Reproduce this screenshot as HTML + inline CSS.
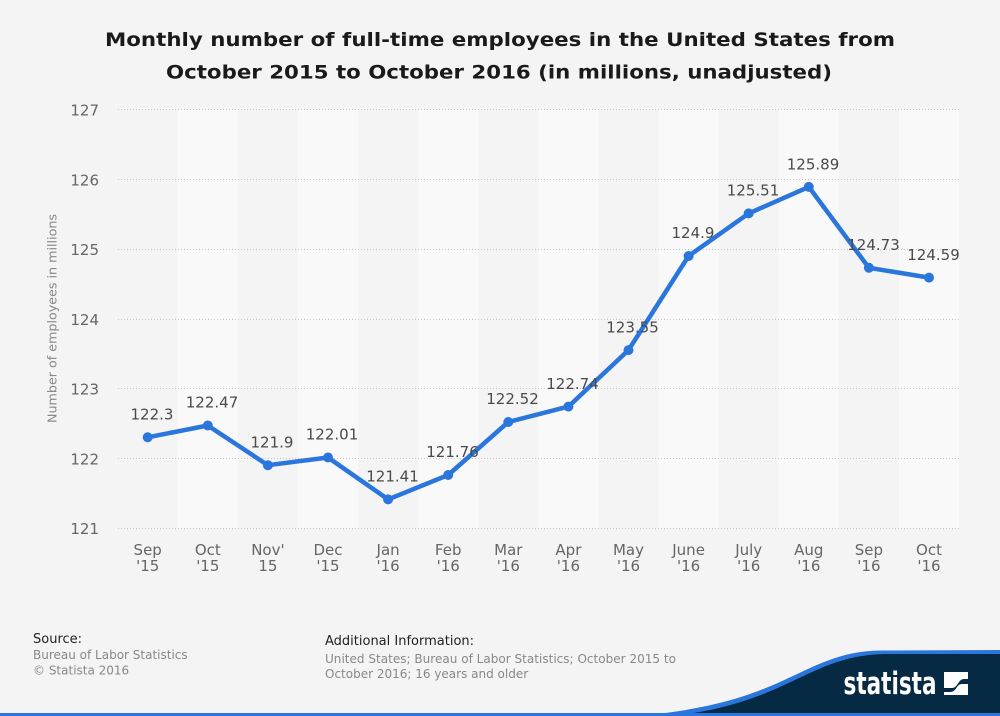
<!DOCTYPE html>
<html>
<head>
<meta charset="utf-8">
<style>
html,body{margin:0;padding:0;background:#f4f4f4;}
svg{display:block;}
text{font-family:"DejaVu Sans","Liberation Sans",sans-serif;}
</style>
</head>
<body>
<svg width="1000" height="716" viewBox="0 0 1000 716" xmlns="http://www.w3.org/2000/svg">
<rect x="0" y="0" width="1000" height="716" fill="#f4f4f4"/>

<!-- Title -->
<text x="500" y="46" text-anchor="middle" font-size="19" font-weight="bold" fill="#1a1a1a" textLength="790" lengthAdjust="spacingAndGlyphs">Monthly number of full-time employees in the United States from</text>
<text x="499" y="78.5" text-anchor="middle" font-size="19" font-weight="bold" fill="#1a1a1a" textLength="666" lengthAdjust="spacingAndGlyphs">October 2015 to October 2016 (in millions, unadjusted)</text>

<!-- Bands -->
<g fill="#f9f9f9">
<rect x="177.7" y="109" width="60.1" height="419"/>
<rect x="297.9" y="109" width="60.1" height="419"/>
<rect x="418.1" y="109" width="60.1" height="419"/>
<rect x="538.3" y="109" width="60.1" height="419"/>
<rect x="658.5" y="109" width="60.1" height="419"/>
<rect x="778.7" y="109" width="60.1" height="419"/>
<rect x="898.9" y="109" width="60.1" height="419"/>
</g>

<!-- Grid -->
<g stroke="#c8c8c8" stroke-width="1" stroke-dasharray="1,2">
<line x1="118" y1="109.5" x2="960" y2="109.5"/>
<line x1="118" y1="179.5" x2="960" y2="179.5"/>
<line x1="118" y1="249.5" x2="960" y2="249.5"/>
<line x1="118" y1="319.5" x2="960" y2="319.5"/>
<line x1="118" y1="388.5" x2="960" y2="388.5"/>
<line x1="118" y1="458.5" x2="960" y2="458.5"/>
<line x1="118" y1="528.5" x2="960" y2="528.5"/>
</g>

<!-- Y tick labels -->
<g font-size="15" fill="#666" text-anchor="end">
<text x="99" y="115.5">127</text>
<text x="99" y="185.5">126</text>
<text x="99" y="255">125</text>
<text x="99" y="325">124</text>
<text x="99" y="394.5">123</text>
<text x="99" y="464.5">122</text>
<text x="99" y="534">121</text>
</g>

<!-- Y axis title -->
<text transform="translate(56.5,318.5) rotate(-90)" text-anchor="middle" font-size="12" fill="#888" textLength="209" lengthAdjust="spacingAndGlyphs">Number of employees in millions</text>

<!-- X labels -->
<g font-size="15" fill="#666" text-anchor="middle">
<text x="147.7" y="555">Sep</text><text x="147.7" y="571">'15</text>
<text x="207.8" y="555">Oct</text><text x="207.8" y="571">'15</text>
<text x="267.9" y="555">Nov'</text><text x="267.9" y="571">15</text>
<text x="328.0" y="555">Dec</text><text x="328.0" y="571">'15</text>
<text x="388.1" y="555">Jan</text><text x="388.1" y="571">'16</text>
<text x="448.2" y="555">Feb</text><text x="448.2" y="571">'16</text>
<text x="508.3" y="555">Mar</text><text x="508.3" y="571">'16</text>
<text x="568.4" y="555">Apr</text><text x="568.4" y="571">'16</text>
<text x="628.5" y="555">May</text><text x="628.5" y="571">'16</text>
<text x="688.6" y="555">June</text><text x="688.6" y="571">'16</text>
<text x="748.7" y="555">July</text><text x="748.7" y="571">'16</text>
<text x="808.8" y="555">Aug</text><text x="808.8" y="571">'16</text>
<text x="868.9" y="555">Sep</text><text x="868.9" y="571">'16</text>
<text x="929.0" y="555">Oct</text><text x="929.0" y="571">'16</text>
</g>

<!-- Series line -->
<polyline fill="none" stroke="#2a76dd" stroke-width="4.5" stroke-linejoin="round" stroke-linecap="round"
points="147.7,437.3 207.8,425.5 267.9,465.2 328.0,457.5 388.1,499.4 448.2,475.0 508.3,422.0 568.4,406.6 628.5,350.1 688.6,256.0 748.7,213.4 808.8,186.9 868.9,267.8 929.0,277.6"/>
<g fill="#2a76dd">
<circle cx="147.7" cy="437.3" r="5"/>
<circle cx="207.8" cy="425.5" r="5"/>
<circle cx="267.9" cy="465.2" r="5"/>
<circle cx="328.0" cy="457.5" r="5"/>
<circle cx="388.1" cy="499.4" r="5"/>
<circle cx="448.2" cy="475.0" r="5"/>
<circle cx="508.3" cy="422.0" r="5"/>
<circle cx="568.4" cy="406.6" r="5"/>
<circle cx="628.5" cy="350.1" r="5"/>
<circle cx="688.6" cy="256.0" r="5"/>
<circle cx="748.7" cy="213.4" r="5"/>
<circle cx="808.8" cy="186.9" r="5"/>
<circle cx="868.9" cy="267.8" r="5"/>
<circle cx="929.0" cy="277.6" r="5"/>
</g>

<!-- Data labels -->
<g font-size="15" fill="#4a4a4a" text-anchor="middle">
<text x="152" y="419.5">122.3</text>
<text x="212" y="407.7">122.47</text>
<text x="272" y="447.4">121.9</text>
<text x="332" y="439.7">122.01</text>
<text x="392.5" y="481.6">121.41</text>
<text x="452.5" y="457.2">121.76</text>
<text x="512.5" y="404.2">122.52</text>
<text x="572.5" y="388.8">122.74</text>
<text x="632.5" y="332.3">123.55</text>
<text x="693" y="238.2">124.9</text>
<text x="753" y="195.6">125.51</text>
<text x="813" y="169.5">125.89</text>
<text x="873.5" y="250">124.73</text>
<text x="933.5" y="259.8">124.59</text>
</g>

<!-- Footer -->
<text x="33" y="643" font-size="13" fill="#222">Source:</text>
<text x="33" y="659" font-size="12" fill="#888">Bureau of Labor Statistics</text>
<text x="33" y="674.5" font-size="12" fill="#888">© Statista 2016</text>
<text x="325" y="645" font-size="13" fill="#222">Additional Information:</text>
<text x="325" y="663" font-size="12" fill="#888" textLength="351" lengthAdjust="spacingAndGlyphs">United States; Bureau of Labor Statistics; October 2015 to</text>
<text x="325" y="678" font-size="12" fill="#888">October 2016; 16 years and older</text>

<!-- Bottom wave -->
<path d="M640,716 C700,710 740,700 780,682 C815,666 840,651 880,650.5 L1000,650 L1000,716 Z" fill="#2a76dd"/>
<path d="M670,716 C710,712 745,703 782,686 C817,670 842,655 884,654 L1000,654 L1000,716 Z" fill="#062a44"/>
<rect x="0" y="713" width="1000" height="3" fill="#2a76dd"/>

<!-- Statista logo -->
<text x="843.5" y="694" font-family="Liberation Sans, sans-serif" font-size="31" font-weight="bold" fill="#ffffff" textLength="93" lengthAdjust="spacingAndGlyphs">statista</text>
<rect x="944" y="672" width="24" height="23" fill="#ffffff"/>
<path d="M944,688 L952,688 C958,688 958,679 964,679 L968,679 L968,684 L962,684 C956,684 957,692 950,692 L944,692 Z" fill="#062a44"/>
</svg>
</body>
</html>
